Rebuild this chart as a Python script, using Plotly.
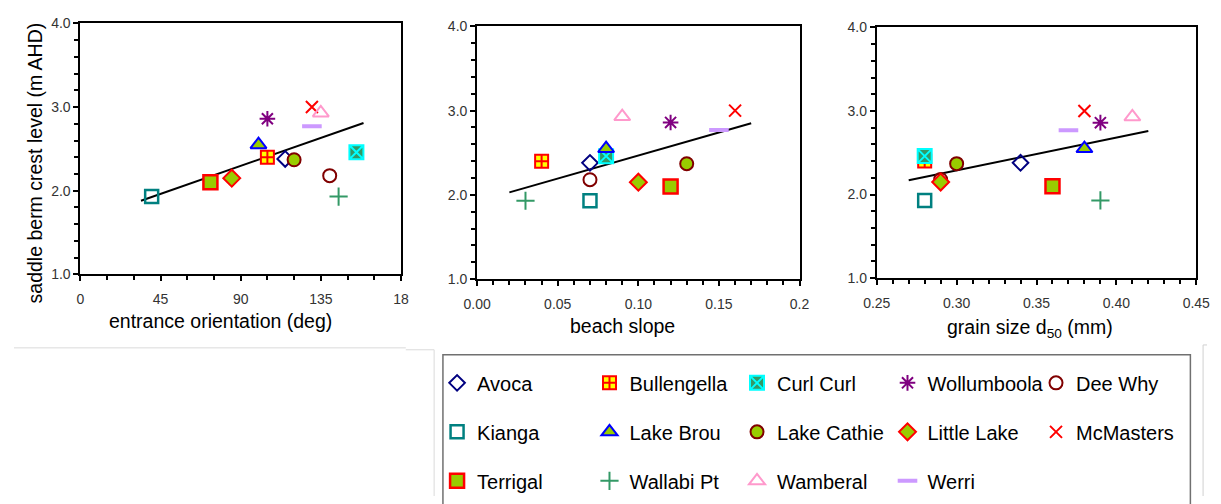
import plotly.graph_objects as go

# ---------------- data ----------------
sites = ["Avoca", "Bullengella", "Curl Curl", "Wollumboola", "Dee Why",
         "Kianga", "Lake Brou", "Lake Cathie", "Little Lake", "McMasters",
         "Terrigal", "Wallabi Pt", "Wamberal", "Werri"]
crest_level = [2.38, 2.40, 2.46, 2.86, 2.18, 1.93, 2.55, 2.37, 2.15, 3.00, 2.10, 1.93, 2.93, 2.77]
orientation_deg = [115, 105, 155, 105, 140, 40, 100, 120, 85, 130, 73, 145, 135, 130]
beach_slope = [0.07, 0.04, 0.08, 0.12, 0.07, 0.07, 0.08, 0.13, 0.10, 0.16, 0.12, 0.03, 0.09, 0.15]
grain_d50 = [0.34, 0.28, 0.28, 0.39, 0.29, 0.28, 0.38, 0.30, 0.29, 0.38, 0.36, 0.39, 0.41, 0.37]

trend_orientation_x = [34, 159]
trend_orientation_y = [1.88, 2.81]
trend_slope_x = [0.02, 0.17]
trend_slope_y = [2.03, 2.85]
trend_grain_x = [0.27, 0.42]
trend_grain_y = [2.17, 2.76]

orientation_ticks = [0, 45, 90, 135, 180]
orientation_ticklabels = ["0", "45", "90", "135", "18"]
slope_ticks = [0.0, 0.05, 0.10, 0.15, 0.2]
slope_ticklabels = ["0.00", "0.05", "0.10", "0.15", "0.2"]
grain_ticks = [0.25, 0.30, 0.35, 0.40, 0.45]
grain_ticklabels = ["0.25", "0.30", "0.35", "0.40", "0.45"]
level_ticks = [1, 2, 3, 4]
level_ticklabels = ["1.0", "2.0", "3.0", "4.0"]

legend_columns = [
    ["Avoca", "Kianga", "Terrigal"],
    ["Bullengella", "Lake Brou", "Wallabi Pt"],
    ["Curl Curl", "Lake Cathie", "Wamberal"],
    ["Wollumboola", "Little Lake", "Werri"],
    ["Dee Why", "McMasters"],
]

# ---------------- styles ----------------
W, H = 1221, 504
def fx(p): return p / W
def fy(p): return 1 - p / H

GREEN = "#99CC00"
styles = {
    "Avoca": dict(symbol="diamond-open", size=12, color="#000080", line=dict(color="#000080", width=2)),
    "Bullengella": dict(symbol="square-cross", size=13, color="#FFFF00", line=dict(color="#FF0000", width=2)),
    "Curl Curl": dict(symbol="square-x", size=14, color="#339966", line=dict(color="#00FFFF", width=2)),
    "Wollumboola": dict(symbol="asterisk-open", size=13, color="#800080", line=dict(color="#800080", width=2)),
    "Dee Why": dict(symbol="circle-open", size=13, color="#800000", line=dict(color="#800000", width=2)),
    "Kianga": dict(symbol="square-open", size=13, color="#008080", line=dict(color="#008080", width=2.5)),
    "Lake Brou": dict(symbol="triangle-up", size=14, color=GREEN, line=dict(color="#0000FF", width=2)),
    "Lake Cathie": dict(symbol="circle", size=13, color=GREEN, line=dict(color="#800000", width=2)),
    "Little Lake": dict(symbol="diamond", size=13, color=GREEN, line=dict(color="#FF0000", width=2)),
    "McMasters": dict(symbol="x-thin-open", size=12, color="#FF0000", line=dict(color="#FF0000", width=2)),
    "Terrigal": dict(symbol="square", size=14, color=GREEN, line=dict(color="#FF0000", width=2.5)),
    "Wallabi Pt": dict(symbol="cross-thin-open", size=13, color="#339966", line=dict(color="#339966", width=2)),
    "Wamberal": dict(symbol="triangle-up-open", size=14, color="#FF99CC", line=dict(color="#FF99CC", width=2)),
    "Werri": dict(symbol="line-ew-open", size=14, color="#CC99FF", line=dict(color="#CC99FF", width=4)),
}
legend_of = {}
for ci, col in enumerate(legend_columns):
    for s in col:
        legend_of[s] = "legend" if ci == 0 else f"legend{ci + 1}"

panels = [
    dict(xs=orientation_deg, tx=trend_orientation_x, ty=trend_orientation_y, xa="x", ya="y"),
    dict(xs=beach_slope, tx=trend_slope_x, ty=trend_slope_y, xa="x2", ya="y2"),
    dict(xs=grain_d50, tx=trend_grain_x, ty=trend_grain_y, xa="x3", ya="y3"),
]

fig = go.Figure()
for pi, p in enumerate(panels):
    fig.add_trace(go.Scatter(x=p["tx"], y=p["ty"], mode="lines", xaxis=p["xa"], yaxis=p["ya"],
                             line=dict(color="black", width=2), showlegend=False, hoverinfo="skip"))
    for i, s in enumerate(sites):
        fig.add_trace(go.Scatter(
            x=[p["xs"][i]], y=[crest_level[i]], mode="markers", name=s,
            xaxis=p["xa"], yaxis=p["ya"], marker=styles[s],
            showlegend=(pi == 0), legend=legend_of[s], legendgroup=s,
        ))

tickfont = dict(family="Liberation Sans, Arial, sans-serif", size=14, color="#333333")

def xaxis(dom, rng, tv, tt, minor_dtick, anchor):
    return dict(domain=dom, range=rng, tickmode="array", tickvals=tv, ticktext=tt,
                ticks="outside", ticklen=5, tickwidth=2, tickcolor="black",
                minor=dict(dtick=minor_dtick, ticks="outside", ticklen=4, tickwidth=2, tickcolor="black"),
                showline=True, linecolor="black", linewidth=2, mirror=True,
                showgrid=False, zeroline=False, anchor=anchor, tickfont=tickfont,
                ticklabelstandoff=6)

def yaxis(dom, anchor):
    return dict(domain=dom, range=[1, 4], tickmode="array", tickvals=level_ticks, ticktext=level_ticklabels,
                ticks="outside", ticklen=5, tickwidth=2, tickcolor="black",
                minor=dict(dtick=0.2, ticks="outside", ticklen=4, tickwidth=2, tickcolor="black"),
                showline=True, linecolor="black", linewidth=2, mirror=True,
                showgrid=False, zeroline=False, anchor=anchor, tickfont=tickfont)

legend_text_x = [472, 628, 779, 933, 1085]
legend_font = dict(family="Liberation Sans, Arial, sans-serif", size=20, color="black")
legends = {}
for ci, tx in enumerate(legend_text_x):
    key = "legend" if ci == 0 else f"legend{ci + 1}"
    legends[key] = dict(x=fx(tx - 39), y=fy(367), xanchor="left", yanchor="top",
                        orientation="v", font=legend_font, bgcolor="rgba(0,0,0,0)",
                        borderwidth=0, tracegroupgap=20, itemclick=False)

title_font = dict(family="Liberation Sans, Arial, sans-serif", size=19.5, color="black")
annotations = [
    dict(text="saddle berm crest level (m AHD)", x=fx(21), y=fy(160), textangle=-90,
         xref="paper", yref="paper", showarrow=False, font=title_font, xanchor="center", yanchor="middle"),
    dict(text="entrance orientation (deg)", x=fx(211), y=fy(323),
         xref="paper", yref="paper", showarrow=False, font=title_font, xanchor="center", yanchor="middle"),
    dict(text="beach slope", x=fx(623), y=fy(328),
         xref="paper", yref="paper", showarrow=False, font=title_font, xanchor="center", yanchor="middle"),
    dict(text="grain size d<sub>50</sub> (mm)", x=fx(1040), y=fy(331),
         xref="paper", yref="paper", showarrow=False, font=title_font, xanchor="center", yanchor="middle"),
]

def pline(x0, y0, x1, y1, color, width=1):
    return dict(type="line", xref="paper", yref="paper", x0=fx(x0), y0=fy(y0), x1=fx(x1), y1=fy(y1),
                line=dict(color=color, width=width), layer="below")

shapes = [
    pline(0, 351, 401, 351, "#DADADA"),
    pline(401, 353, 430, 353, "#DADADA"),
    pline(430, 353, 430, 504, "#DADADA"),
    pline(1217, 348, 1217, 504, "#D0D0D0"),
    pline(1217, 348, 1221, 348, "#D0D0D0"),
    dict(type="rect", xref="paper", yref="paper", x0=fx(439), y0=fy(358), x1=fx(1204), y1=fy(515),
         line=dict(color="#707070", width=1.5), layer="below"),
]

fig.update_layout(
    width=W, height=H, margin=dict(l=0, r=0, t=0, b=0),
    paper_bgcolor="white", plot_bgcolor="white",
    xaxis=xaxis([fx(68), fx(396)], [0, 180], orientation_ticks, orientation_ticklabels, 15, "y"),
    yaxis=yaxis([fy(275), fy(16)], "x"),
    xaxis2=xaxis([fx(474), fx(804)], [0, 0.2], slope_ticks, slope_ticklabels, 0.01, "y2"),
    yaxis2=yaxis([fy(280), fy(19)], "x2"),
    xaxis3=xaxis([fx(883), fx(1210)], [0.25, 0.45], grain_ticks, grain_ticklabels, 0.01, "y3"),
    yaxis3=yaxis([fy(279), fy(20)], "x3"),
    annotations=annotations, shapes=shapes,
    showlegend=True,
    **legends,
)

fig.write_html("out.html")
